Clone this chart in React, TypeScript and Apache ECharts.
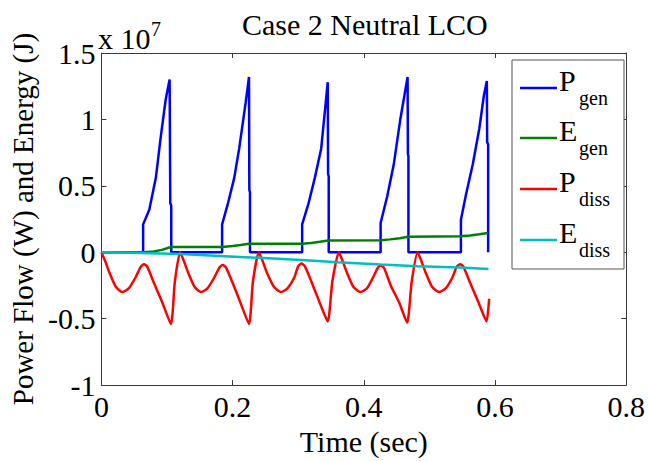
import React, { useEffect, useRef } from "react";
import * as echarts from "echarts";

// Time axis (sec) and power/energy values in units of 1e7 (W or J)
const xTickLabels = ["0", "0.2", "0.4", "0.6", "0.8"];
const yTickLabels = ["-1", "-0.5", "0", "0.5", "1", "1.5"];
const seriesNames = ["P_gen", "E_gen", "P_diss", "E_diss"];

const pGen: [number, number][] = [
  [0, 0], [0.0636, 0], [0.0636, 0.21], [0.073, 0.32], [0.083, 0.56], [0.09, 0.85], [0.098, 1.15], [0.1, 1.2], [0.104, 1.3],
  [0.105, 0.37], [0.1065, 0.35], [0.1065, 0],
  [0.184, 0], [0.184, 0.21], [0.1925, 0.36], [0.2025, 0.56], [0.21, 0.78], [0.22, 1.13], [0.225, 1.32],
  [0.2255, 0.47], [0.2265, 0.45], [0.2265, 0],
  [0.306, 0], [0.306, 0.21], [0.3153, 0.36], [0.3253, 0.56], [0.335, 0.78], [0.341, 1.08], [0.345, 1.28],
  [0.3455, 0.59], [0.3465, 0.57], [0.3465, 0],
  [0.4256, 0], [0.4256, 0.22], [0.4356, 0.42], [0.4456, 0.66], [0.4556, 1.0], [0.4667, 1.32],
  [0.4672, 0.74], [0.468, 0.72], [0.468, 0],
  [0.548, 0], [0.548, 0.245], [0.556, 0.44], [0.566, 0.66], [0.576, 0.93], [0.583, 1.18], [0.5875, 1.29],
  [0.588, 0.83], [0.5895, 0.81], [0.5895, 0],
];

const eGen: [number, number][] = [
  [0, 0], [0.064, 0], [0.08, 0.006], [0.092, 0.018], [0.1, 0.03], [0.106, 0.04],
  [0.184, 0.04], [0.2, 0.047], [0.212, 0.055], [0.225, 0.064],
  [0.306, 0.064], [0.32, 0.07], [0.333, 0.079], [0.346, 0.089],
  [0.426, 0.09], [0.44, 0.097], [0.455, 0.106], [0.467, 0.116],
  [0.548, 0.12], [0.562, 0.126], [0.576, 0.135], [0.589, 0.145],
];

const pDiss: [number, number][] = [
  [0, 0], [0.006, -0.07], [0.012, -0.15], [0.022, -0.26], [0.032, -0.3], [0.042, -0.27], [0.052, -0.19], [0.06, -0.11],
  [0.065, -0.09], [0.07, -0.11], [0.08, -0.23], [0.093, -0.38], [0.106, -0.54], [0.112, -0.22], [0.12, 0],
  [0.126, -0.07], [0.132, -0.15], [0.142, -0.26], [0.152, -0.3], [0.162, -0.27], [0.172, -0.19], [0.18, -0.115],
  [0.185, -0.095], [0.19, -0.115], [0.2, -0.23], [0.212, -0.38], [0.225, -0.54], [0.231, -0.22], [0.24, 0],
  [0.246, -0.07], [0.252, -0.15], [0.263, -0.26], [0.274, -0.3], [0.284, -0.27], [0.294, -0.19], [0.3, -0.105],
  [0.305, -0.085], [0.31, -0.105], [0.32, -0.22], [0.332, -0.37], [0.345, -0.52], [0.352, -0.22], [0.362, 0],
  [0.368, -0.07], [0.374, -0.15], [0.384, -0.26], [0.395, -0.3], [0.405, -0.27], [0.414, -0.19], [0.421, -0.12],
  [0.4256, -0.1], [0.431, -0.12], [0.441, -0.25], [0.454, -0.38], [0.466, -0.53], [0.473, -0.22], [0.482, 0],
  [0.488, -0.07], [0.494, -0.15], [0.504, -0.26], [0.515, -0.3], [0.525, -0.27], [0.535, -0.19], [0.542, -0.105],
  [0.547, -0.09], [0.552, -0.11], [0.562, -0.23], [0.575, -0.38], [0.587, -0.52], [0.591, -0.35],
];

const eDiss: [number, number][] = [
  [0, 0], [0.06, -0.005], [0.12, -0.014], [0.18, -0.028], [0.24, -0.042], [0.305, -0.058], [0.36, -0.075],
  [0.426, -0.092], [0.482, -0.105], [0.547, -0.115], [0.59, -0.126],
];

const COLORS = ["#0000FF", "#008000", "#FF0000", "#00BFBF"];
const FONT = "Liberation Serif";
const AXIS = "#3a3a3a";

export default function App() {
  const ref = useRef<HTMLDivElement>(null);
  useEffect(() => {
    if (!ref.current) return;
    const chart = echarts.init(ref.current, undefined, { renderer: "svg" });
    const txt = { fontFamily: FONT, color: "#000", fontWeight: "normal" as const };
    const baseX = {
      type: "value" as const,
      min: 0,
      max: 0.8,
      interval: 0.2,
      splitLine: { show: false },
      axisLine: { show: true, onZero: false, lineStyle: { color: AXIS, width: 1 } },
      axisTick: { show: true, inside: true, length: 5, lineStyle: { color: AXIS } },
    };
    const baseY = {
      type: "value" as const,
      min: -1,
      max: 1.5,
      interval: 0.5,
      splitLine: { show: false },
      axisLine: { show: true, onZero: false, lineStyle: { color: AXIS, width: 1 } },
      axisTick: { show: true, inside: true, length: 5, lineStyle: { color: AXIS } },
    };
    const rowY = [88, 138, 189, 240];
    const mains = ["P", "E", "P", "E"];
    const subs = ["gen", "gen", "diss", "diss"];
    const graphic: any[] = [
      {
        type: "text",
        x: 98,
        y: 38,
        z: 100,
        style: { text: "x 10", fontFamily: FONT, fontSize: 30, fill: "#000", verticalAlign: "middle" },
      },
      {
        type: "text",
        x: 151,
        y: 29,
        z: 100,
        style: { text: "7", fontFamily: FONT, fontSize: 20, fill: "#000", verticalAlign: "middle" },
      },
      {
        type: "rect",
        z: 100,
        shape: { x: 512, y: 60, width: 112, height: 209 },
        style: { fill: "#fff", stroke: "#555", lineWidth: 1 },
      },
    ];
    rowY.forEach((y, i) => {
      graphic.push({
        type: "line",
        z: 101,
        shape: { x1: 520, y1: y, x2: 557, y2: y },
        style: { stroke: COLORS[i], lineWidth: 2.5 },
      });
      graphic.push({
        type: "text",
        z: 101,
        x: 559,
        y: y - 8,
        style: { text: mains[i], fontFamily: FONT, fontSize: 30, fill: "#000", verticalAlign: "middle", align: "left" },
      });
      graphic.push({
        type: "text",
        z: 101,
        x: 579,
        y: y + 10,
        style: { text: subs[i], fontFamily: FONT, fontSize: 20, fill: "#000", verticalAlign: "middle", align: "left" },
      });
    });
    const datasets = [pGen, eGen, pDiss, eDiss];
    chart.setOption({
      animation: false,
      backgroundColor: "#fff",
      title: {
        text: "Case 2 Neutral LCO",
        left: 237,
        top: 4,
        textStyle: { ...txt, fontSize: 30 },
      },
      grid: { left: 97, right: 18, top: 53, bottom: 70 },
      xAxis: [
        {
          ...baseX,
          position: "bottom",
          name: "Time (sec)",
          nameLocation: "middle",
          nameGap: 37,
          nameTextStyle: { ...txt, fontSize: 30 },
          axisLabel: {
            ...txt,
            fontSize: 30,
            margin: 6,
            formatter: (v: number) => xTickLabels[Math.round(v / 0.2)] ?? "",
          },
        },
        { ...baseX, position: "top", axisLabel: { show: false } },
      ],
      yAxis: [
        {
          ...baseY,
          position: "left",
          name: "Power Flow (W) and Energy (J)",
          nameLocation: "middle",
          nameGap: 60,
          nameRotate: 90,
          nameTextStyle: { ...txt, fontSize: 29 },
          axisLabel: {
            ...txt,
            fontSize: 30,
            margin: 6,
            formatter: (v: number) => yTickLabels[Math.round((v + 1) / 0.5)] ?? "",
          },
        },
        { ...baseY, position: "right", axisLabel: { show: false } },
      ],
      series: datasets.map((d, i) => ({
        name: seriesNames[i],
        type: "line",
        xAxisIndex: 0,
        yAxisIndex: 0,
        data: d,
        showSymbol: false,
        symbol: "none",
        smooth: i === 2 ? 0.2 : false,
        lineStyle: { color: COLORS[i], width: 2.5 },
        itemStyle: { color: COLORS[i] },
        z: 2 + i,
      })),
      graphic,
    });
    return () => chart.dispose();
  }, []);
  return (
    <div
      ref={ref}
      style={{ position: "fixed", left: 0, top: 0, width: 648, height: 461, background: "#fff" }}
    />
  );
}
